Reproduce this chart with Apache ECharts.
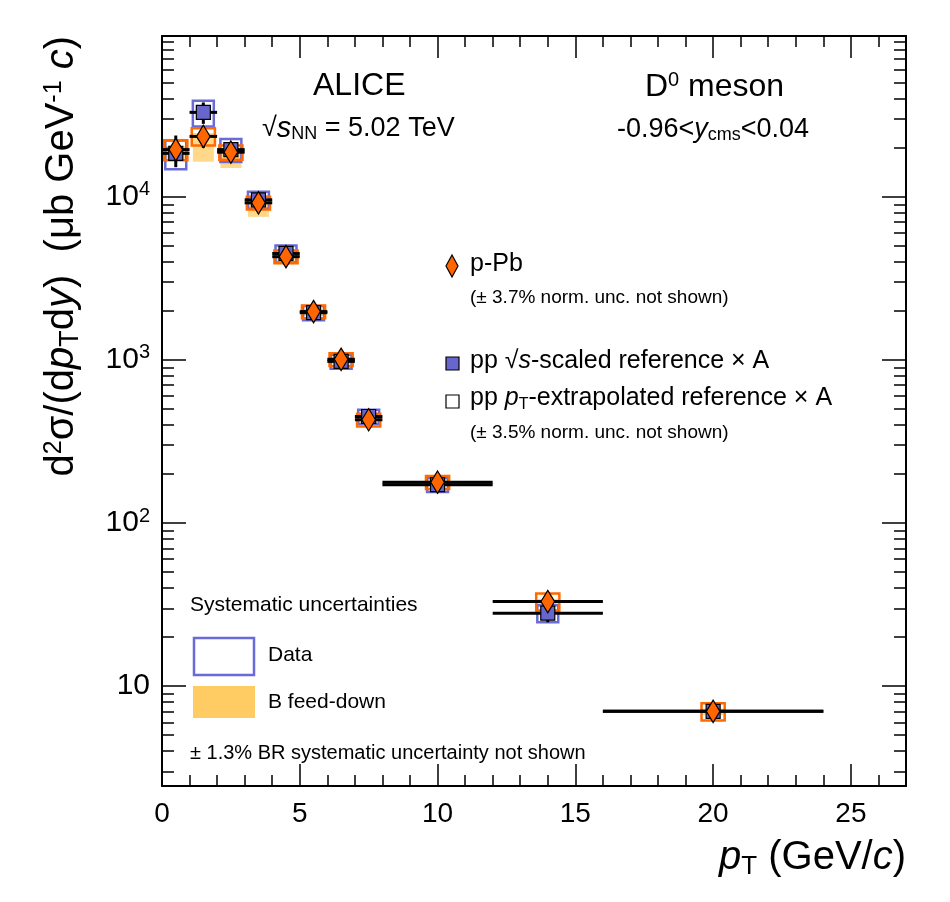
<!DOCTYPE html>
<html><head><meta charset="utf-8">
<script src="https://cdn.jsdelivr.net/npm/echarts@6/dist/echarts.min.js"></script>
<style>html,body{margin:0;padding:0;background:#fff}#c{width:950px;height:902px}</style>
</head><body><div id="c"></div>
<script>
const ptCenter = [0.5,1.5,2.5,3.5,4.5,5.5,6.5,7.5,10,14,20];
const binLow   = [0,1,2,3,4,5,6,7,8,12,16];
const binHigh  = [1,2,3,4,5,6,7,8,12,16,24];
const pPbVal   = [19500,23500,18800,9200,4300,1980,1010,430,178,33,7.0];
const pPbStat  = [0.22,0.15,0.05,0.05,0.05,0.05,0.05,0.06,0.05,0.10,0.13];
const pPbSyst  = [0.14,0.12,0.10,0.09,0.09,0.09,0.09,0.09,0.09,0.12,0.12];
const ppVal    = [18500,33000,19500,9600,4500,1950,980,450,172,28,7.0];
const ppStat   = [0.05,0.15,0.04,0.04,0.04,0.04,0.05,0.05,0.05,0.12,0.10];
const ppSyst   = [0.20,0.18,0.16,0.12,0.12,0.10,0.10,0.10,0.10,0.12,0.0];
const fdLow    = [0.14,0.30,0.20,0.18,0.10,0.06,0.06,0.06,0.05,0.05,0.05];
const fdHigh   = [0.05,0.05,0.04,0.04,0.04,0.04,0.04,0.04,0.04,0.04,0.04];
const yTicks   = [10,100,1000,10000];
const yMinorTicks = [];
[1,10,100,1000,10000].forEach(d => { for (let k=2;k<=9;k++){ const v=k*d; if (v>2.44 && v<97000) yMinorTicks.push(v);} });

const idx = ptCenter.map((_, i) => [i]);
function boxSeries(name, valArr, lo, hi, halfW, style, z){
  return {type:'custom', name, z, data: idx.map(r=>[ptCenter[r[0]], valArr[r[0]], r[0]]),
    renderItem(params, api){
      const i = api.value(2); const v = valArr[i];
      if (lo[i] === 0 && hi[i] === 0) return;
      const p1 = api.coord([ptCenter[i]-halfW, v*(1+hi[i])]);
      const p2 = api.coord([ptCenter[i]+halfW, v*(1-lo[i])]);
      return {type:'rect', shape:{x:p1[0], y:p1[1], width:p2[0]-p1[0], height:p2[1]-p1[1]}, style};
    }};
}
function pointSeries(name, valArr, stat, symbol, color, size, z){
  return {type:'custom', name, z, data: idx.map(r=>[ptCenter[r[0]], valArr[r[0]], r[0]]),
    renderItem(params, api){
      const i = api.value(2); const v = valArr[i];
      const c = api.coord([ptCenter[i], v]);
      const a = api.coord([binLow[i], v]), b = api.coord([binHigh[i], v]);
      const t = api.coord([ptCenter[i], v*(1+stat[i])]), d = api.coord([ptCenter[i], v*(1-stat[i])]);
      const ls = {stroke:'#000', lineWidth:3};
      const children = [
        {type:'line', shape:{x1:a[0],y1:a[1],x2:b[0],y2:b[1]}, style:ls},
        {type:'line', shape:{x1:t[0],y1:t[1],x2:d[0],y2:d[1]}, style:ls}
      ];
      const s = size/2;
      if (symbol === 'diamond') {
        children.push({type:'polygon', shape:{points:[[c[0],c[1]-s*1.4],[c[0]+s*0.85,c[1]],[c[0],c[1]+s*1.4],[c[0]-s*0.85,c[1]]]},
          style:{fill:color, stroke:'#000', lineWidth:1.2}});
      } else {
        children.push({type:'rect', shape:{x:c[0]-s,y:c[1]-s,width:size,height:size}, style:{fill:color, stroke:'#000', lineWidth:1.2}});
      }
      return {type:'group', children};
    }};
}
const sup = n => '10{s|' + n + '}';
const chart = echarts.init(document.getElementById('c'));
const F = 'Liberation Sans, Arial, sans-serif';
const tickStyle = {color:'#000', width:1.5};
function xAx(pos, labels){
  return {type:'value', min:0, max:27, interval:5, position:pos,
    axisLine:{onZero:false, lineStyle:{color:'#000', width:2}}, splitLine:{show:false},
    axisTick:{inside:true, length:22, lineStyle:tickStyle},
    minorTick:{show:true, splitNumber:5, length:11, lineStyle:tickStyle},
    axisLabel: labels ? {fontSize:28, color:'#000', fontFamily:F, margin:14, formatter: v => v>26 ? '' : String(v)} : {show:false}};
}
function yAx(pos, labels, ticks, len){
  return {type:'log', logBase:10, min:2.44, max:97000, position:pos,
    axisLine:{onZero:false, show:!!labels, lineStyle:{color:'#000', width:2}}, splitLine:{show:false},
    axisTick:{inside:true, length:len, customValues:ticks, lineStyle:tickStyle},
    minorTick:{show:false},
    axisLabel: labels ? {fontSize:30, color:'#000', fontFamily:F, margin:12, customValues:yTicks,
        formatter: v => { const n = Math.round(Math.log10(v)); return n===1 ? '10' : sup(n); },
        rich:{s:{fontSize:20, verticalAlign:'top', padding:[0,0,14,0], fontFamily:F, color:'#000'}}} : {show:false}};
}
chart.setOption({
  animation:false,
  grid:{left:162, right:44, top:36, bottom:116},
  xAxis:[xAx('bottom', true), xAx('top', false)],
  yAxis:[yAx('left', true, yTicks, 24), yAx('right', true, yTicks, 24), yAx('left', false, yMinorTicks, 12), yAx('right', false, yMinorTicks, 12)].map((a,k)=>{ if(k===1){a.axisLabel={show:false};} return a; }),
  series:[
    boxSeries('B feed-down', pPbVal, fdLow, fdHigh, 0.38, {fill:'rgba(255,190,60,0.6)', stroke:'none'}, 1),
    boxSeries('pp syst', ppVal, ppSyst, ppSyst, 0.38, {fill:'none', stroke:'#6a6ad8', lineWidth:2.5}, 2),
    boxSeries('pPb syst', pPbVal, pPbSyst, pPbSyst, 0.42, {fill:'none', stroke:'#ff6a00', lineWidth:2.5}, 3),
    pointSeries('pp', ppVal, ppStat, 'square', '#6666cc', 14, 4),
    pointSeries('p-Pb', pPbVal, pPbStat, 'diamond', '#ff6600', 16, 5)
  ],
  graphic:[
    {type:'text', left:313, top:70, style:{text:'ALICE', font:'32px '+F, fill:'#000'}},
    {type:'text', left:262, top:114, style:{text:'\u221A{i|s}{sub|NN} = 5.02 TeV', font:'27px '+F, fill:'#000',
      rich:{i:{fontStyle:'italic', fontSize:29, fontFamily:F}, sub:{fontSize:18, verticalAlign:'bottom', padding:[12,0,0,0], fontFamily:F}}}},
    {type:'text', left:645, top:70, style:{text:'D{s|0} meson', font:'32px '+F, fill:'#000',
      rich:{s:{fontSize:20, verticalAlign:'top', padding:[0,0,14,0], fontFamily:F}}}},
    {type:'text', left:617, top:116, style:{text:'-0.96<{i|y}{sub|cms}<0.04', font:'27px '+F, fill:'#000',
      rich:{i:{fontStyle:'italic', fontSize:27, fontFamily:F}, sub:{fontSize:18, padding:[12,0,0,0], fontFamily:F}}}},
    {type:'polygon', shape:{points:[[452,255],[458,266],[452,277],[446,266]]}, style:{fill:'#ff6600', stroke:'#000', lineWidth:1.2}},
    {type:'text', left:470, top:252, style:{text:'p-Pb', font:'25px '+F, fill:'#000'}},
    {type:'text', left:470, top:288, style:{text:'(\u00B1 3.7% norm. unc. not shown)', font:'19px '+F, fill:'#000'}},
    {type:'rect', shape:{x:446, y:357, width:13, height:13}, style:{fill:'#6666cc', stroke:'#000', lineWidth:1.2}},
    {type:'text', left:470, top:349, style:{text:'pp \u221A{i|s}-scaled reference \u00D7 A', font:'25px '+F, fill:'#000',
      rich:{i:{fontStyle:'italic', fontSize:25, fontFamily:F}}}},
    {type:'rect', shape:{x:446, y:395, width:13, height:13}, style:{fill:'#fff', stroke:'#000', lineWidth:1.2}},
    {type:'text', left:470, top:386, style:{text:'pp {i|p}{sub|T}-extrapolated reference \u00D7 A', font:'25px '+F, fill:'#000',
      rich:{i:{fontStyle:'italic', fontSize:25, fontFamily:F}, sub:{fontSize:16, padding:[12,0,0,0], fontFamily:F}}}},
    {type:'text', left:470, top:423, style:{text:'(\u00B1 3.5% norm. unc. not shown)', font:'19px '+F, fill:'#000'}},
    {type:'text', left:190, top:595, style:{text:'Systematic uncertainties', font:'21px '+F, fill:'#000'}},
    {type:'rect', shape:{x:194, y:638, width:60, height:37}, style:{fill:'none', stroke:'#6a6ad8', lineWidth:2.5}},
    {type:'text', left:268, top:645, style:{text:'Data', font:'21px '+F, fill:'#000'}},
    {type:'rect', shape:{x:193, y:686, width:62, height:32}, style:{fill:'rgba(255,190,60,0.8)'}},
    {type:'text', left:268, top:692, style:{text:'B feed-down', font:'21px '+F, fill:'#000'}},
    {type:'text', left:190, top:743, style:{text:'\u00B1 1.3% BR systematic uncertainty not shown', font:'20px '+F, fill:'#000'}},
    {type:'text', right:44, top:838, style:{text:'{i|p}{sub|T} (GeV/{i|c})', font:'40px '+F, fill:'#000',
      rich:{i:{fontStyle:'italic', fontSize:40, fontFamily:F}, sub:{fontSize:26, padding:[18,0,0,0], fontFamily:F}}}},
    {type:'text', x:62, y:36, rotation:Math.PI/2, style:{text:'d{s|2}\u03C3/(d{i|p}{sub|T}d{i|y})  (\u03BCb GeV{s|-1} {i|c})', font:'40px '+F, fill:'#000',
      align:'right', verticalAlign:'middle',
      rich:{i:{fontStyle:'italic', fontSize:40, fontFamily:F}, s:{fontSize:25, padding:[0,0,16,0], fontFamily:F},
            sub:{fontSize:27, padding:[18,0,0,0], fontFamily:F}}}}
  ]
});
</script></body></html>
